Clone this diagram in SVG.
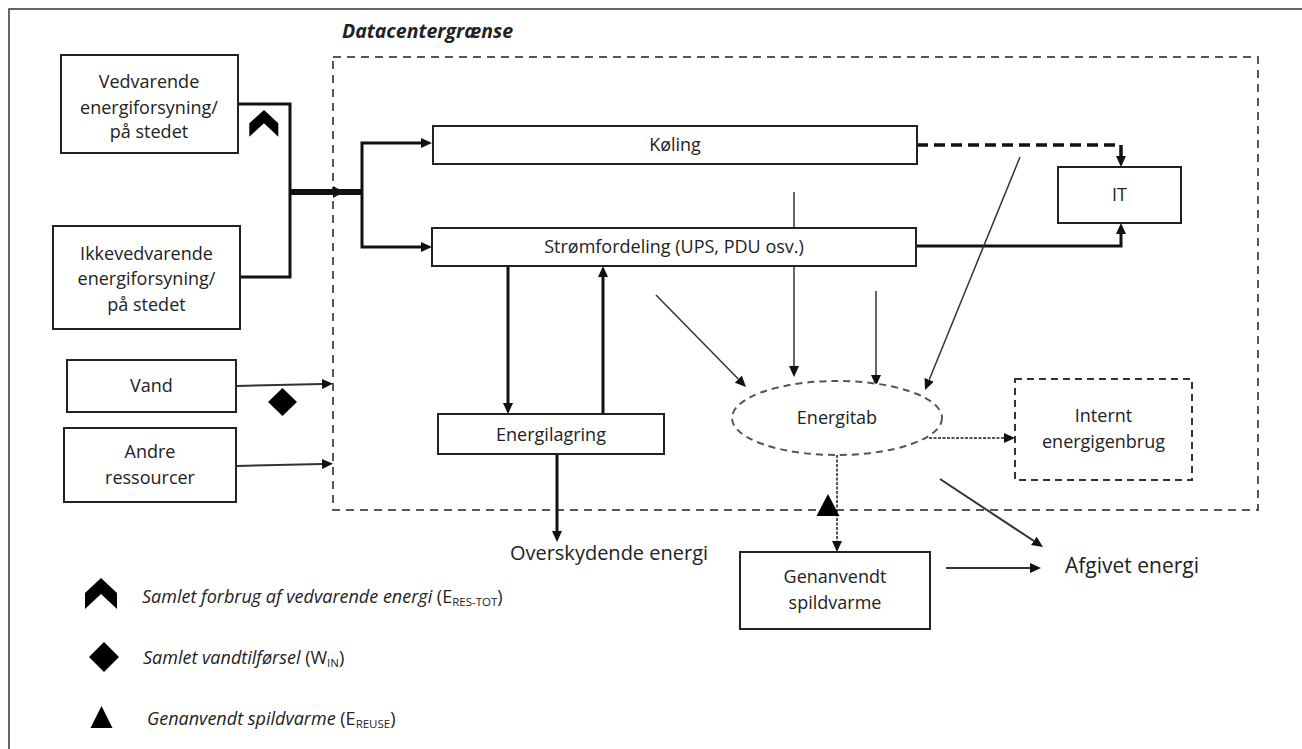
<svg xmlns="http://www.w3.org/2000/svg" width="1302" height="749" viewBox="0 0 1302 749">
<style>
.box{fill:#fff;stroke:#222;stroke-width:2}
.dbox{fill:#fff;stroke:#333;stroke-width:2;stroke-dasharray:7 5}
.t{font-family:"Open Sans","Liberation Sans",sans-serif;font-size:18px;fill:#222;text-anchor:middle}
.leg{font-family:"Open Sans","Liberation Sans",sans-serif;font-size:18px;font-style:italic;fill:#222}
.c{fill:none;stroke:#111;stroke-width:3}
.thin{fill:none;stroke:#333;stroke-width:1.5}
.mid{fill:none;stroke:#333;stroke-width:2}
.dot{fill:none;stroke:#555;stroke-width:2;stroke-dasharray:3 1.5}
.sym{fill:#000}
</style>
<defs>
<marker id="a" viewBox="0 0 11 10" refX="0" refY="5" markerWidth="11" markerHeight="10" markerUnits="userSpaceOnUse" orient="auto-start-reverse"><path d="M0,0 L11,5 L0,10 z" fill="#111"/></marker>
<marker id="ab" viewBox="0 0 11 12" refX="0" refY="6" markerWidth="11" markerHeight="12" markerUnits="userSpaceOnUse" orient="auto"><path d="M0,0 L11,6 L0,12 z" fill="#111"/></marker>
</defs>
<rect width="1302" height="749" fill="#fff"/>
<path d="M9,749 V9 H1302" fill="none" stroke="#333" stroke-width="1.5"/>

<g id="boundary">
<rect x="333" y="57" width="925" height="453" fill="none" stroke="#222" stroke-width="1.5" stroke-dasharray="8 6"/>
<text x="342" y="38" font-family="'Open Sans','Liberation Sans',sans-serif" font-size="19.5" font-weight="bold" font-style="italic" fill="#222">Datacentergrænse</text>
</g>

<g id="connectors">
<path class="c" d="M238,104 H290 V277 H240"/>
<path d="M290,192 H333" fill="none" stroke="#111" stroke-width="6" marker-end="url(#ab)"/>
<path d="M333,192 H362" fill="none" stroke="#111" stroke-width="6"/>
<path class="c" d="M421,143 H362 V247 H421" marker-start="url(#a)" marker-end="url(#a)"/>
<path d="M917,145 H1121 V156" fill="none" stroke="#111" stroke-width="3.5" stroke-dasharray="11 6" marker-end="url(#a)"/>
<path class="c" d="M916,246 H1121 V234" marker-end="url(#a)"/>
<path class="c" d="M508,266 V403" marker-end="url(#a)"/>
<path class="c" d="M603,414 V277" marker-end="url(#a)"/>
<path class="c" d="M557,454 V531" marker-end="url(#a)"/>
<path class="mid" d="M236,386 L322,384" marker-end="url(#a)"/>
<path class="mid" d="M236,466 L322,464" marker-end="url(#a)"/>
<path class="thin" d="M656,295 L738.3,379.1" marker-end="url(#a)"/>
<path class="thin" d="M794,192 V366" marker-end="url(#a)"/>
<path class="thin" d="M876,291 V375" marker-end="url(#a)"/>
<path class="thin" d="M1020,157 L929.2,379.8" marker-end="url(#a)"/>
<path class="dot" d="M929,438 H1004" marker-end="url(#a)"/>
<path class="dot" d="M837,455 V541" marker-end="url(#a)"/>
<path class="mid" d="M940,479 L1033.8,540.9" marker-end="url(#a)"/>
<path class="mid" d="M946,568 H1030" marker-end="url(#a)"/>
</g>

<g id="vedvarende">
<rect class="box" x="61" y="55" width="177" height="98"/>
<text class="t" x="149" y="88">Vedvarende</text>
<text class="t" x="149" y="114">energiforsyning/</text>
<text class="t" x="149" y="138">på stedet</text>
</g>
<g id="ikkevedvarende">
<rect class="box" x="53" y="226" width="187" height="103"/>
<text class="t" x="146.5" y="260">Ikkevedvarende</text>
<text class="t" x="146.5" y="285">energiforsyning/</text>
<text class="t" x="146.5" y="311">på stedet</text>
</g>
<g id="vand">
<rect class="box" x="67" y="360" width="169" height="52"/>
<text class="t" x="151.5" y="392">Vand</text>
</g>
<g id="andre">
<rect class="box" x="64" y="428" width="172" height="74"/>
<text class="t" x="150" y="458">Andre</text>
<text class="t" x="150" y="484">ressourcer</text>
</g>
<g id="koeling">
<rect class="box" x="433" y="126" width="484" height="38"/>
<text class="t" x="675" y="151">Køling</text>
</g>
<g id="stroemfordeling">
<rect class="box" x="432" y="228" width="484" height="38"/>
<text class="t" x="674" y="253">Strømfordeling (UPS, PDU osv.)</text>
</g>
<g id="it">
<rect class="box" x="1058" y="167" width="123" height="56"/>
<text class="t" x="1119.5" y="201">IT</text>
</g>
<g id="energilagring">
<rect class="box" x="438" y="414" width="226" height="40"/>
<text class="t" x="551" y="441">Energilagring</text>
</g>
<g id="energitab">
<ellipse cx="837" cy="418" rx="105" ry="37" fill="#fff" stroke="#555" stroke-width="2" stroke-dasharray="7 5"/>
<text class="t" x="837" y="424">Energitab</text>
</g>
<g id="internt">
<rect class="dbox" x="1015" y="379" width="177" height="101"/>
<text class="t" x="1103.5" y="422">Internt</text>
<text class="t" x="1103.5" y="448">energigenbrug</text>
</g>
<g id="genanvendt">
<rect class="box" x="740" y="552" width="190" height="77"/>
<text class="t" x="835" y="583">Genanvendt</text>
<text class="t" x="835" y="609">spildvarme</text>
</g>
<g id="overskydende">
<text class="t" x="609" y="560" style="font-size:20px">Overskydende energi</text>
</g>
<g id="afgivet">
<text class="t" x="1132" y="573" style="font-size:21px">Afgivet energi</text>
</g>

<g id="symbols">
<path class="sym" d="M249.3,136.7 V123.3 L264,110 L278.3,123.3 V136.7 L264,123.3 z"/>
<path class="sym" d="M282.5,388 L297,402 L282.5,416 L268,402 z"/>
<path class="sym" d="M828,494 L839.5,516 L816.5,516 z"/>
</g>

<g id="legend">
<path class="sym" d="M85,609 V593 L101,578 L117,593 V609 L101,594 z"/>
<text class="leg" x="142" y="603">Samlet forbrug af vedvarende energi <tspan font-style="normal">(E<tspan font-size="11.5" dy="3">RES-TOT</tspan><tspan dy="-3">)</tspan></tspan></text>
<path class="sym" d="M104,642 L119,657 L104,672 L89,657 z"/>
<text class="leg" x="143" y="664">Samlet vandtilførsel <tspan font-style="normal">(W<tspan font-size="11.5" dy="3">IN</tspan><tspan dy="-3">)</tspan></tspan></text>
<path class="sym" d="M101.5,706 L112.5,728 L90.5,728 z"/>
<text class="leg" x="147" y="725">Genanvendt spildvarme <tspan font-style="normal">(E<tspan font-size="11.5" dy="3">REUSE</tspan><tspan dy="-3">)</tspan></tspan></text>
</g>
</svg>
